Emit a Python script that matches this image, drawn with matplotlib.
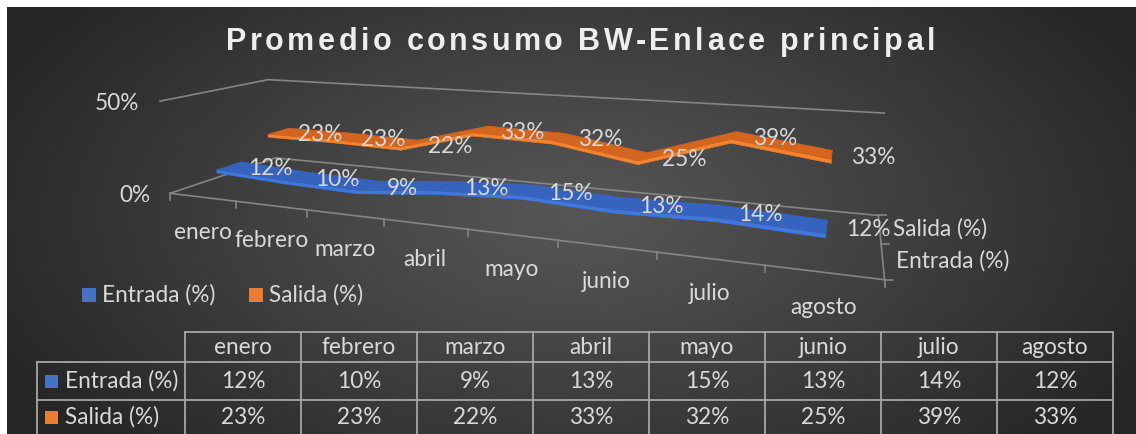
import numpy as np
import matplotlib
matplotlib.use("Agg")
import matplotlib.pyplot as plt
from matplotlib.patches import Polygon, Rectangle
from matplotlib.font_manager import FontProperties
from matplotlib.textpath import TextToPath

# ---------------- data ----------------
months = ["enero", "febrero", "marzo", "abril", "mayo", "junio", "julio", "agosto"]
entrada = [12, 10, 9, 13, 15, 13, 14, 12]
salida = [23, 23, 22, 33, 32, 25, 39, 33]
series_names = ["Entrada (%)", "Salida (%)"]
value_ticks = [0, 50]
value_tick_labels = ["0%", "50%"]
title = "Promedio consumo BW-Enlace principal"

# ---------------- style ----------------
W_PX, H_PX = 1136, 434
FONT = ["Lato", "DejaVu Sans"]
TXT = "#d9d9d9"
GRID = "#858585"
TABLE_LINE = "#a6a6a6"
BLUE_TOP, BLUE_FRONT, BLUE_KEY = "#3663bd", "#3f77dc", "#4472c4"
ORG_TOP, ORG_FRONT, ORG_KEY = "#d4651f", "#f5822e", "#ed7d31"
LBL = 16.3

plt.rcParams["font.family"] = FONT

fig = plt.figure(figsize=(W_PX / 100, H_PX / 100), dpi=100, facecolor="white")
ax = fig.add_axes([0, 0, 1, 1])
ax.set_xlim(0, W_PX)
ax.set_ylim(H_PX, 0)
ax.axis("off")

# ---------------- background (dark radial gradient, white margin) ----------------
yy, xx = np.mgrid[0:H_PX, 0:W_PX]
r = np.sqrt(((xx - 575) / 640.0) ** 2 + ((yy - 215) / 340.0) ** 2)
r = np.clip(r, 0, 1) ** 1.1
lvl = (0x56 + (0x26 - 0x56) * r) / 255.0
img = np.dstack([lvl, lvl, lvl])
img[:7, :, :] = 1.0
img[:, :7, :] = 1.0
ax.imshow(img, extent=(0, W_PX, H_PX, 0), interpolation="bilinear", zorder=0, aspect="auto")

# ---------------- 3D frame calibration (world: category, depth, value%) ----------------
frame_world = [
    (0, 0, 0), (8, 0, 0), (8, 1, 0), (0, 1, 0),
    (0, 1, 50), (8, 1, 50), (0, 0, 50), (8, 0.5, 0),
    (1, 0, 0), (2, 0, 0), (3, 0, 0), (4, 0, 0), (5, 0, 0), (6, 0, 0), (7, 0, 0),
]
frame_px = [
    (171, 193), (884, 280), (880, 215), (272, 158),
    (270, 80), (885, 113), (157, 101), (882, 244),
    (237, 201), (309, 210), (386, 219.5), (469, 229.5), (560, 240.5), (656, 252.5), (760, 265),
]


def fit_projection(world, px):
    world = np.asarray(world, float)
    px = np.asarray(px, float)
    wm, ws = world.mean(0), world.std(0) + 1e-9
    pm, ps = px.mean(0), px.std(0)
    Wn = (world - wm) / ws
    Pn = (px - pm) / ps
    A = []
    for (X, Y, Z), (u, v) in zip(Wn, Pn):
        A.append([X, Y, Z, 1, 0, 0, 0, 0, -u * X, -u * Y, -u * Z, -u])
        A.append([0, 0, 0, 0, X, Y, Z, 1, -v * X, -v * Y, -v * Z, -v])
    M = np.linalg.svd(np.array(A))[2][-1].reshape(3, 4)
    Tw = np.eye(4)
    Tw[:3, :3] = np.diag(1 / ws)
    Tw[:3, 3] = -wm / ws
    Tp = np.eye(3)
    Tp[:2, :2] = np.diag(1 / ps)
    Tp[:2, 2] = -pm / ps
    return np.linalg.inv(Tp) @ M @ Tw


P = fit_projection(frame_world, frame_px)


def proj(X, Y, Z):
    h = P @ np.array([X, Y, Z, 1.0])
    return h[0] / h[2], h[1] / h[2]


def line3d(pts, **kw):
    p = np.array([proj(*q) for q in pts])
    ax.plot(p[:, 0], p[:, 1], **kw)


n = len(months)
glw = 1.2
# gridlines on side wall + back wall
for z in value_ticks:
    line3d([(0, 0, z), (0, 1, z), (n, 1, z)], color=GRID, lw=glw, zorder=2, solid_capstyle="butt")
# category axis and depth axis
line3d([(0, 0, 0), (n, 0, 0)], color=GRID, lw=glw, zorder=2)
line3d([(n, 0, 0), (n, 1, 0)], color=GRID, lw=glw, zorder=2)
for k in range(n + 1):
    u, v = proj(k, 0, 0)
    ax.plot([u, u], [v, v + 7], color=GRID, lw=glw, zorder=2)
for d in [0, 0.5, 1]:
    u, v = proj(n, d, 0)
    ax.plot([u, u + 8], [v, v], color=GRID, lw=glw, zorder=2)

# value axis labels
for z, lab in zip(value_ticks, value_tick_labels):
    u, v = proj(0, 0, z)
    ax.text(u - 20, v + 2, lab, ha="right", va="center", fontsize=LBL, color=TXT, zorder=5)

# category labels
for i, m in enumerate(months):
    u, v = proj(i + 0.5, 0, 0)
    ax.text(u, v + 35, m, ha="center", va="center", fontsize=LBL, color=TXT, zorder=5)

# ---------------- ribbons ----------------
RIB_D = 0.22
THICK = 1.8
depth_centers = [0.25, 0.75]


def ribbon(values, dc, top_col, front_col, z0):
    xs = np.arange(len(values)) + 0.5
    y0, y1 = dc - RIB_D / 2, dc + RIB_D / 2
    for i in range(len(values) - 1):
        xa, xb = xs[i], xs[i + 1]
        za, zb = values[i], values[i + 1]
        front = [proj(xa, y0, za), proj(xb, y0, zb), proj(xb, y0, zb - THICK), proj(xa, y0, za - THICK)]
        top = [proj(xa, y0, za), proj(xb, y0, zb), proj(xb, y1, zb), proj(xa, y1, za)]
        ax.add_patch(Polygon(front, closed=True, fc=front_col, ec=front_col, lw=0.4, zorder=z0 + i * 0.01))
        ax.add_patch(Polygon(top, closed=True, fc=top_col, ec=top_col, lw=0.4, zorder=z0 + i * 0.01 + 0.005))


ribbon(salida, depth_centers[1], ORG_TOP, ORG_FRONT, 3)
ribbon(entrada, depth_centers[0], BLUE_TOP, BLUE_FRONT, 4)

# data labels
for vals, dc in [(salida, depth_centers[1]), (entrada, depth_centers[0])]:
    for i, val in enumerate(vals):
        u, v = proj(i + 0.5, dc, val)
        ax.text(u + 19, v + 3, f"{val}%", ha="left", va="center", fontsize=LBL, color=TXT, zorder=6)

# depth (series) axis labels
for name, dc in zip(series_names, depth_centers):
    u, v = proj(n, dc, 0)
    ax.text(u + 13, v, name, ha="left", va="center", fontsize=LBL, color=TXT, zorder=5)

# ---------------- title (letter-spaced) ----------------
tprop = FontProperties(family="Liberation Sans", weight="bold", size=22)
t2p = TextToPath()
to_px = 100.0 / 72.0


def tw(s):
    return t2p.get_text_width_height_descent(s, tprop, ismath=False)[0] * to_px


title_left, title_right = 226, 935
natural = tw(title)
gap = (title_right - title_left - natural) / (len(title) - 1)
for k, ch in enumerate(title):
    if ch == " ":
        continue
    xk = title_left + tw(title[:k + 1]) - tw(ch) + gap * k
    ax.text(xk, 50, ch, ha="left", va="baseline", fontproperties=tprop, color="#eeeeee", zorder=5)

# ---------------- legend ----------------
leg_x = [82, 249]
for x0, name, col in zip(leg_x, series_names, [BLUE_KEY, ORG_KEY]):
    ax.add_patch(Rectangle((x0, 288), 14, 14, fc=col, ec="none", zorder=5))
    ax.text(x0 + 20, 295, name, ha="left", va="center", fontsize=LBL, color=TXT, zorder=5)

# ---------------- data table ----------------
tx0, cw, lx0 = 185, 116, 37
row_y = [332, 362, 400, 438]
tlw = 1.3
right = tx0 + cw * n
ax.plot([tx0, right], [row_y[0], row_y[0]], color=TABLE_LINE, lw=tlw, zorder=5)
for yv in row_y[1:]:
    ax.plot([lx0, right], [yv, yv], color=TABLE_LINE, lw=tlw, zorder=5)
for k in range(n + 1):
    xv = tx0 + cw * k
    ax.plot([xv, xv], [row_y[0], row_y[-1]], color=TABLE_LINE, lw=tlw, zorder=5)
ax.plot([lx0, lx0], [row_y[1], row_y[-1]], color=TABLE_LINE, lw=tlw, zorder=5)

for i, m in enumerate(months):
    ax.text(tx0 + cw * (i + 0.5), (row_y[0] + row_y[1]) / 2, m, ha="center", va="center",
            fontsize=LBL, color=TXT, zorder=6)
for r_i, (name, vals, col) in enumerate(zip(series_names, [entrada, salida], [BLUE_KEY, ORG_KEY])):
    yc = (row_y[r_i + 1] + row_y[r_i + 2]) / 2 - (2 if r_i == 1 else 0)
    ax.add_patch(Rectangle((lx0 + 8, yc - 6), 13, 13, fc=col, ec="none", zorder=6))
    ax.text(lx0 + 28, yc, name, ha="left", va="center", fontsize=LBL, color=TXT, zorder=6)
    for i, val in enumerate(vals):
        ax.text(tx0 + cw * (i + 0.5), yc, f"{val}%", ha="center", va="center",
                fontsize=LBL, color=TXT, zorder=6)

fig.savefig("out.png", dpi=100, facecolor="white")
